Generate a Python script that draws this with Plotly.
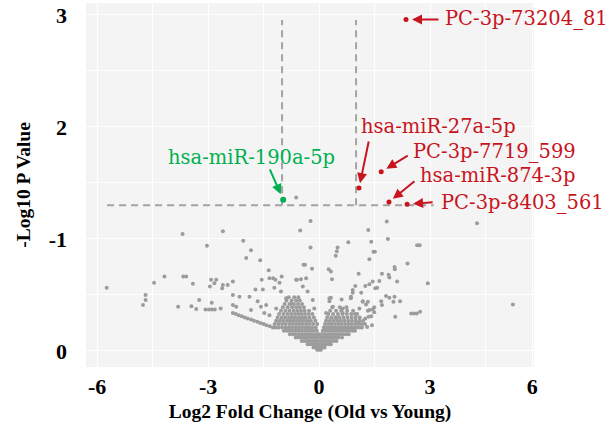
import plotly.graph_objects as go

# ---------------- data ----------------
# sparse grey miRNAs (log2 FC, -log10 p)
sparse_x = [-5.74, -4.69, -4.69, -4.76, -4.46, -4.18, -3.67, -3.59, -3.41, -3.81, -3.45, -3.32, -3.24,
            -2.90, -3.07, -2.98, -2.90, -2.82, -2.66, -2.92, -2.78, -2.83, -2.95, -2.62, -2.60,
            -3.69, -3.03, -2.60, -2.05, -1.84, -1.97, -1.59, -1.36, -0.51, -0.23, -0.62,
            -0.23, -0.42, -0.38, -0.19,
            0.79, 0.50, 0.48, 0.45, 0.26, 0.32, 1.07,
            1.83, 4.27, 1.33, 1.41, 1.86, 1.47, 1.51, 2.65, 2.72, 1.36, 2.39, 2.04, 2.05, 1.70, 1.88,
            5.24, 2.94, 0.35, 1.90, 2.11, 1.45, 1.57, 1.36, 1.25,
            1.81, 1.90, 2.04, 2.01, 2.19, 1.68, 1.70, 2.06, 2.49, 2.57, 2.64, 2.73,
            0.91, 0.86, 0.98, 1.14, 1.18, 1.27, 1.32, 1.45, 1.41, 1.25, 1.03, 1.05,
            0.61, 0.64, 0.32, 0.28, 0.19, 0.46,
            1.63, 1.52, 1.32, 1.49, 1.36, 1.49, 1.34, 1.30, 1.43,
            -1.34, -1.18, -1.07, -0.62, -0.49, -0.35, -1.72, -1.52, -1.21, -1.03, -0.44, -0.31,
            -2.33, -2.15, -1.88, -1.66, -1.57, -2.33, -1.43, -1.16, -0.89, -0.76, -0.17, -0.13,
            0.28, 0.37, 0.64, 0.91, 0.86, 1.18, 1.09, -2.33, -2.47, -2.24, -1.84, -1.48, -1.34,
            -1.24, -1.01, -1.55, -0.60]
sparse_y = [0.565, 0.50, 0.455, 0.41, 0.61, 0.665, 0.665, 0.665, 0.60, 0.395, 0.40, 0.375, 0.455,
            0.43, 0.37, 0.37, 0.37, 0.37, 0.38, 0.635, 0.635, 0.605, 0.575, 0.56, 0.59,
            1.045, 0.94, 1.07, 0.985, 0.90, 0.83, 0.81, 0.72, 1.075, 1.16, 1.37,
            0.925, 0.77, 0.77, 0.735,
            0.97, 0.925, 0.89, 0.85, 0.73, 0.71, 0.69,
            1.155, 1.14, 1.08, 0.975, 1.0, 0.885, 0.885, 0.945, 0.945, 0.82, 0.78, 0.75, 0.73, 0.69, 0.68,
            0.415, 0.605, 0.64, 0.655, 0.62, 0.62, 0.565, 0.595, 0.58,
            0.49, 0.475, 0.485, 0.44, 0.445, 0.445, 0.41, 0.305, 0.335, 0.335, 0.335, 0.35,
            0.52, 0.485, 0.58, 0.52, 0.445, 0.415, 0.36, 0.37, 0.31, 0.29, 0.33, 0.25,
            0.46, 0.34, 0.475, 0.445, 0.34, 0.30,
            0.625, 0.56, 0.44, 0.39, 0.365, 0.345, 0.305, 0.215, 0.23,
            0.65, 0.635, 0.61, 0.635, 0.64, 0.65, 0.55, 0.55, 0.565, 0.53, 0.575, 0.53,
            0.50, 0.485, 0.485, 0.445, 0.395, 0.41, 0.41, 0.38, 0.47, 0.425, 0.455, 0.38,
            0.47, 0.395, 0.38, 0.545, 0.47, 0.44, 0.38, 0.62, 0.59, 0.395, 0.365, 0.34, 0.32,
            0.65, 0.665, 0.635, 0.635]

# lower-left edge of the cloud
edge_x = [-2.33, -2.25, -2.17, -2.09, -2.01, -1.93, -1.84, -1.76, -1.67, -1.59, -1.50, -1.42, -1.33, -1.25]
edge_y = [0.34, 0.33, 0.32, 0.31, 0.30, 0.29, 0.28, 0.27, 0.26, 0.25, 0.24, 0.23, 0.22, 0.21]

# dense central cloud, read row by row (-log10 p level : log2 FC values)
dense_rows = {
    0.01: [-0.05, 0.0, 0.05],
    0.03: [-0.15, -0.09, -0.03, 0.03, 0.09, 0.15],
    0.06: [-0.31, -0.24, -0.17, -0.1, -0.03, 0.04, 0.11, 0.18, 0.26, 0.32],
    0.09: [-0.47, -0.4, -0.33, -0.26, -0.19, -0.12, -0.05, 0.03, 0.1, 0.17, 0.24, 0.31, 0.39, 0.47],
    0.12: [-0.63, -0.55, -0.47, -0.4, -0.33, -0.25, -0.18, -0.1, -0.03, 0.05, 0.12, 0.2, 0.28, 0.36,
           0.44, 0.52, 0.62],
    0.15: [-0.79, -0.71, -0.63, -0.55, -0.47, -0.39, -0.31, -0.23, -0.15, -0.07, 0.0, 0.08, 0.16,
           0.24, 0.32, 0.4, 0.48, 0.56, 0.64, 0.72, 0.8],
    0.18: [-0.95, -0.87, -0.79, -0.71, -0.63, -0.55, -0.47, -0.39, -0.31, -0.23, -0.15, -0.06, 0.1,
           0.18, 0.26, 0.34, 0.42, 0.5, 0.58, 0.66, 0.74, 0.82, 0.9, 0.97],
    0.21: [-1.18, -1.09, -1.0, -0.91, -0.82, -0.73, -0.64, -0.55, -0.46, -0.37, -0.28, -0.19, -0.09,
           0.13, 0.21, 0.29, 0.37, 0.45, 0.53, 0.61, 0.69, 0.77, 0.85, 0.93, 1.01, 1.1, 1.16],
    0.24: [-1.2, -1.1, -1.0, -0.9, -0.8, -0.71, -0.62, -0.53, -0.44, -0.35, -0.26, -0.16, -0.05,
           0.16, 0.25, 0.34, 0.43, 0.52, 0.61, 0.7, 0.79, 0.88, 0.97, 1.06, 1.15, 1.24],
    0.27: [-1.16, -1.06, -0.96, -0.86, -0.77, -0.68, -0.59, -0.5, -0.41, -0.32, -0.22, -0.1,
           0.19, 0.29, 0.39, 0.49, 0.59, 0.69, 0.79, 0.89, 0.99, 1.09, 1.19],
    0.30: [-1.12, -1.01, -0.91, -0.81, -0.72, -0.63, -0.54, -0.45, -0.36, -0.26, -0.14,
           0.22, 0.33, 0.44, 0.55, 0.66, 0.77, 0.88, 0.99, 1.1],
    0.33: [-1.08, -0.96, -0.85, -0.75, -0.65, -0.56, -0.47, -0.38, -0.28, -0.18,
           0.25, 0.38, 0.51, 0.63, 0.75, 0.87, 0.97],
    0.36: [-1.03, -0.91, -0.8, -0.69, -0.59, -0.49, -0.39, -0.27, 0.3, 0.46, 0.6, 0.76, 0.92],
    0.39: [-0.98, -0.85, -0.73, -0.62, -0.52, -0.41, 0.36, 0.56, 0.74],
    0.42: [-0.93, -0.8, -0.68, -0.57, -0.46],
    0.45: [-0.88, -0.74, -0.62, -0.52],
    0.48: [-0.82, -0.67, -0.56],
}

# significant miRNAs
up_names = ["PC-3p-73204_81", "hsa-miR-27a-5p", "PC-3p-7719_599", "hsa-miR-874-3p", "PC-3p-8403_561"]
up_x = [2.35, 1.08, 1.68, 1.89, 2.38]
up_y = [2.96, 1.455, 1.60, 1.33, 1.31]
down_names = ["hsa-miR-190a-5p"]
down_x = [-0.97]
down_y = [1.35]

# thresholds
fc_cut = [-1, 1]
p_cut = 1.301
vline_top = 2.955
hline_span = [-5.73, 3.1]

# axis ticks
x_tickvals = [-6, -3, 0, 3, 5.76]
x_ticktext = ["-6", "-3", "0", "3", "6"]
y_tickvals = [0, 1, 2, 3]
y_ticktext = ["0", "-1", "2", "3"]

# ---------------- figure ----------------
gray_x = list(sparse_x) + list(edge_x)
gray_y = list(sparse_y) + list(edge_y)
for yv, xs in dense_rows.items():
    gray_x += xs
    gray_y += [yv] * len(xs)

RED = "#c8141e"
GREEN = "#00b050"
GREY = "#9c9c9c"
DASH = "#a3a3a3"

fig = go.Figure()
fig.add_trace(go.Scatter(x=gray_x, y=gray_y, mode="markers",
                         marker=dict(size=4, color=GREY), hoverinfo="skip"))
# threshold lines
for fc in fc_cut:
    fig.add_trace(go.Scatter(x=[fc, fc], y=[p_cut, vline_top], mode="lines",
                             line=dict(color=DASH, width=2, dash="7px,5px"), hoverinfo="skip"))
fig.add_trace(go.Scatter(x=hline_span, y=[p_cut, p_cut], mode="lines",
                         line=dict(color=DASH, width=2, dash="7px,5px"), hoverinfo="skip"))
fig.add_trace(go.Scatter(x=up_x, y=up_y, mode="markers", text=up_names,
                         marker=dict(size=5, color=RED)))
fig.add_trace(go.Scatter(x=down_x, y=down_y, mode="markers", text=down_names,
                         marker=dict(size=6, color=GREEN)))

# label placement (left edge of text, data units) and arrow tail offsets (px)
label_pos = [(3.35, 2.973), (1.08, 2.0), (2.49, 1.777), (2.68, 1.5625), (3.24, 1.33)]
arrow_off = [(34, 0, 6), (10, -48, 5), (28, -17, 6), (27, -22, 5), (27, -2, 6)]
afont = dict(family="DejaVu Serif", size=19.5)

anns = []
for name, px, py, (lx, ly), (ax, ay, so) in zip(up_names, up_x, up_y, label_pos, arrow_off):
    anns.append(dict(x=lx, y=ly, text=name, showarrow=False, xanchor="left", yanchor="middle",
                     font=dict(afont, color=RED)))
    anns.append(dict(x=px, y=py, text="", showarrow=True, ax=ax, ay=ay, arrowhead=2,
                     arrowsize=1, arrowwidth=2, arrowcolor=RED, standoff=so))
anns.append(dict(x=-4.14, y=1.732, text=down_names[0], showarrow=False, xanchor="left",
                 yanchor="middle", font=dict(afont, color=GREEN)))
anns.append(dict(x=down_x[0], y=down_y[0], text="", showarrow=True, ax=-14, ay=-32, arrowhead=2,
                 arrowsize=1, arrowwidth=2, arrowcolor=GREEN, standoff=6))

tickf = dict(family="Liberation Serif", size=22, color="black", weight="bold")
titf = dict(family="Liberation Serif", size=19.5, color="black", weight="bold")

fig.update_layout(
    width=612, height=432,
    margin=dict(l=86, r=78, t=3, b=65, autoexpand=False),
    paper_bgcolor="white", plot_bgcolor="#f4f4f4",
    showlegend=False,
    annotations=anns,
    xaxis=dict(range=[-6.30, 5.81], tickvals=x_tickvals, ticktext=x_ticktext, automargin=False,
               showgrid=True, gridcolor="white", gridwidth=1, zeroline=False, showline=False,
               ticks="", tickfont=tickf, ticklabelstandoff=4,
               minor=dict(tickvals=[-4.5, -1.5, 1.5, 4.5], showgrid=True, gridcolor="white"),
               title=dict(text="Log2 Fold Change (Old vs Young)", font=titf, standoff=6)),
    yaxis=dict(range=[-0.143, 3.107], tickvals=y_tickvals, ticktext=y_ticktext, automargin=False,
               showgrid=True, gridcolor="white", gridwidth=1, zeroline=False, showline=False,
               ticks="", tickfont=tickf, ticklabelstandoff=18,
               minor=dict(tickvals=[0.5, 1.5, 2.5], showgrid=True, gridcolor="white"),
               title=dict(text="-Log10 P Value", font=titf, standoff=12)),
)

fig.write_html("out.html", config={"displayModeBar": False},
               post_script="document.body.style.margin='0';")
